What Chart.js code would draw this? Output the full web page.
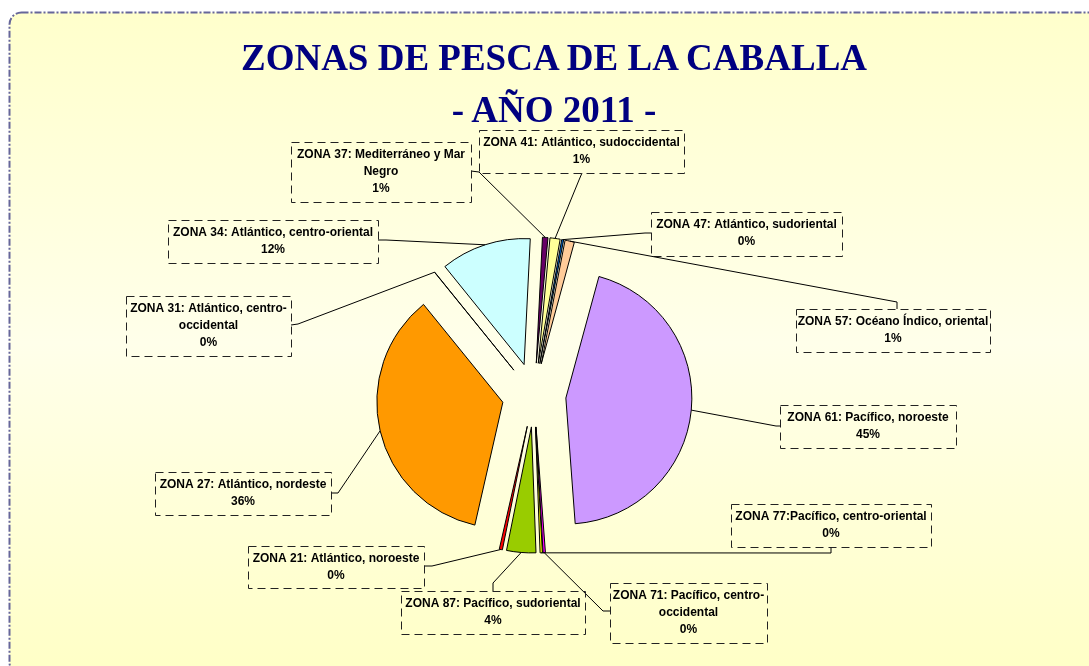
<!DOCTYPE html>
<html>
<head>
<meta charset="utf-8">
<script src="https://cdn.jsdelivr.net/npm/chart.js@4"></script>
<style>
  html, body { margin: 0; padding: 0; background: #fff; }
  #wrap { position: relative; width: 1089px; height: 666px; overflow: hidden; }
  #chart { position: absolute; left: 0; top: 0; }
  .title {
    position: absolute; left: 0; width: 1108px; text-align: center;
    font: bold 37px "Liberation Serif", "Times New Roman", serif;
    line-height: 37px; color: #000080; white-space: nowrap;
  }
</style>
</head>
<body>
<div id="wrap">
  <canvas id="chart" width="1089" height="666"></canvas>
  <div class="title" style="top:39px">ZONAS DE PESCA DE LA CABALLA</div>
  <div class="title" style="top:91px">- AÑO 2011 -</div>
</div>
<script>
// Categories (in pie order, clockwise)
const zoneNames = [
  ['ZONA 21: Atlántico, noroeste'],
  ['ZONA 27: Atlántico, nordeste'],
  ['ZONA 31: Atlántico, centro-', 'occidental'],
  ['ZONA 34: Atlántico, centro-oriental'],
  ['ZONA 37: Mediterráneo y Mar', 'Negro'],
  ['ZONA 41: Atlántico, sudoccidental'],
  ['ZONA 47: Atlántico, sudoriental'],
  ['ZONA 57: Océano Índico, oriental'],
  ['ZONA 61: Pacífico, noroeste'],
  ['ZONA 71: Pacífico, centro-', 'occidental'],
  ['ZONA 77:Pacífico, centro-oriental'],
  ['ZONA 87: Pacífico, sudoriental']
];
// share of catch, %
const shares = [0.4, 35.6, 0.03, 11.6, 0.7, 1.3, 0.25, 1.2, 44.6, 0.3, 0.3, 3.75];
const sliceColors = ['#FF0000', '#FF9900', '#99CCFF', '#CCFFFF', '#660066', '#FFFF99',
                     '#0066CC', '#FFCC99', '#CC99FF', '#FF00FF', '#FFFF00', '#99CC00'];

const EXPLODE = 32;   // px each slice is pulled out
const total = shares.reduce((a, b) => a + b, 0);
const pct = i => Math.round(shares[i] / total * 100) + '%';

// label box placement: x, y, w, h, anchor on box, elbow of leader line
const labelBoxes = [
  { x: 248, y: 546, w: 176, h: 42, anchor: [424, 566], elbow: [432, 566] },
  { x: 155, y: 472, w: 176, h: 43, anchor: [331, 493], elbow: [338, 493] },
  { x: 126, y: 296, w: 165, h: 60, anchor: [291, 325], elbow: [298, 324] },
  { x: 168, y: 220, w: 210, h: 43, anchor: [378, 240], elbow: [386, 240] },
  { x: 291, y: 142, w: 180, h: 60, anchor: [471, 171], elbow: [479, 172] },
  { x: 479, y: 130, w: 205, h: 43, anchor: [582, 173], elbow: [579, 180] },
  { x: 651, y: 212, w: 191, h: 44, anchor: [651, 233], elbow: [645, 233] },
  { x: 796, y: 309, w: 194, h: 43, anchor: [897, 309], elbow: [897, 302] },
  { x: 780, y: 405, w: 176, h: 43, anchor: [780, 426], elbow: [776, 426] },
  { x: 610, y: 583, w: 157, h: 60, anchor: [610, 611], elbow: [603, 611] },
  { x: 731, y: 504, w: 200, h: 43, anchor: [831, 547], elbow: [831, 553] },
  { x: 401, y: 591, w: 184, h: 43, anchor: [493, 591], elbow: [493, 583] }
];

// yellow panel with dash-dot frame behind everything
const panel = {
  id: 'panel',
  beforeDraw(chart) {
    const ctx = chart.ctx;
    const x = 9.5, y = 12.5, w = 1100, h = 662, r = 12;
    ctx.save();
    const g = ctx.createLinearGradient(0, y, 0, y + h);
    g.addColorStop(0, '#FFFFCC');
    g.addColorStop(0.5, '#FFFFEA');
    g.addColorStop(1, '#FFFFC6');
    ctx.beginPath();
    ctx.roundRect(x, y, w, h, r);
    ctx.fillStyle = g;
    ctx.fill();
    ctx.setLineDash([7, 2, 2, 2]);
    ctx.lineWidth = 2;
    ctx.strokeStyle = '#66669A';
    ctx.stroke();
    ctx.restore();
  }
};

// pull every slice out from the centre
const explode = {
  id: 'explode',
  afterDatasetUpdate(chart, args) {
    chart.getDatasetMeta(args.index).data.forEach(arc => {
      const mid = (arc.startAngle + arc.endAngle) / 2;
      arc.x += EXPLODE * Math.cos(mid);
      arc.y += EXPLODE * Math.sin(mid);
    });
  }
};

// dashed label boxes with leader lines
const zoneLabels = {
  id: 'zoneLabels',
  afterDatasetsDraw(chart) {
    const ctx = chart.ctx;
    const arcs = chart.getDatasetMeta(0).data;
    ctx.save();
    ctx.lineWidth = 1;
    ctx.strokeStyle = '#000';
    arcs.forEach((arc, i) => {
      const b = labelBoxes[i];
      const mid = (arc.startAngle + arc.endAngle) / 2;
      const px = arc.x + arc.outerRadius * Math.cos(mid);
      const py = arc.y + arc.outerRadius * Math.sin(mid);

      ctx.setLineDash([]);
      ctx.beginPath();
      ctx.moveTo(px, py);
      ctx.lineTo(b.elbow[0], b.elbow[1]);
      ctx.lineTo(b.anchor[0], b.anchor[1]);
      ctx.stroke();

      ctx.setLineDash([8, 5]);
      ctx.strokeStyle = '#222';
      ctx.strokeRect(b.x + 0.5, b.y + 0.5, b.w, b.h);
      ctx.strokeStyle = '#000';

      const lines = [...zoneNames[i], pct(i)];
      ctx.fillStyle = '#000';
      ctx.font = 'bold 12px "Liberation Sans", Arial, sans-serif';
      ctx.textAlign = 'center';
      ctx.textBaseline = 'middle';
      lines.forEach((t, k) => ctx.fillText(t, b.x + b.w / 2, b.y + 13 + k * 17));
    });
    ctx.restore();
  }
};

new Chart(document.getElementById('chart'), {
  type: 'pie',
  data: {
    labels: zoneNames.map(n => n.join(' ')),
    datasets: [{
      data: shares,
      backgroundColor: sliceColors,
      borderColor: '#000',
      borderWidth: 1
    }]
  },
  options: {
    responsive: false,
    animation: false,
    events: [],
    rotation: 191.4,
    radius: 126,
    layout: { padding: { left: 100, right: 121, top: 180, bottom: 56 } },
    plugins: {
      legend: { display: false },
      tooltip: { enabled: false }
    }
  },
  plugins: [panel, explode, zoneLabels]
});
</script>
</body>
</html>
